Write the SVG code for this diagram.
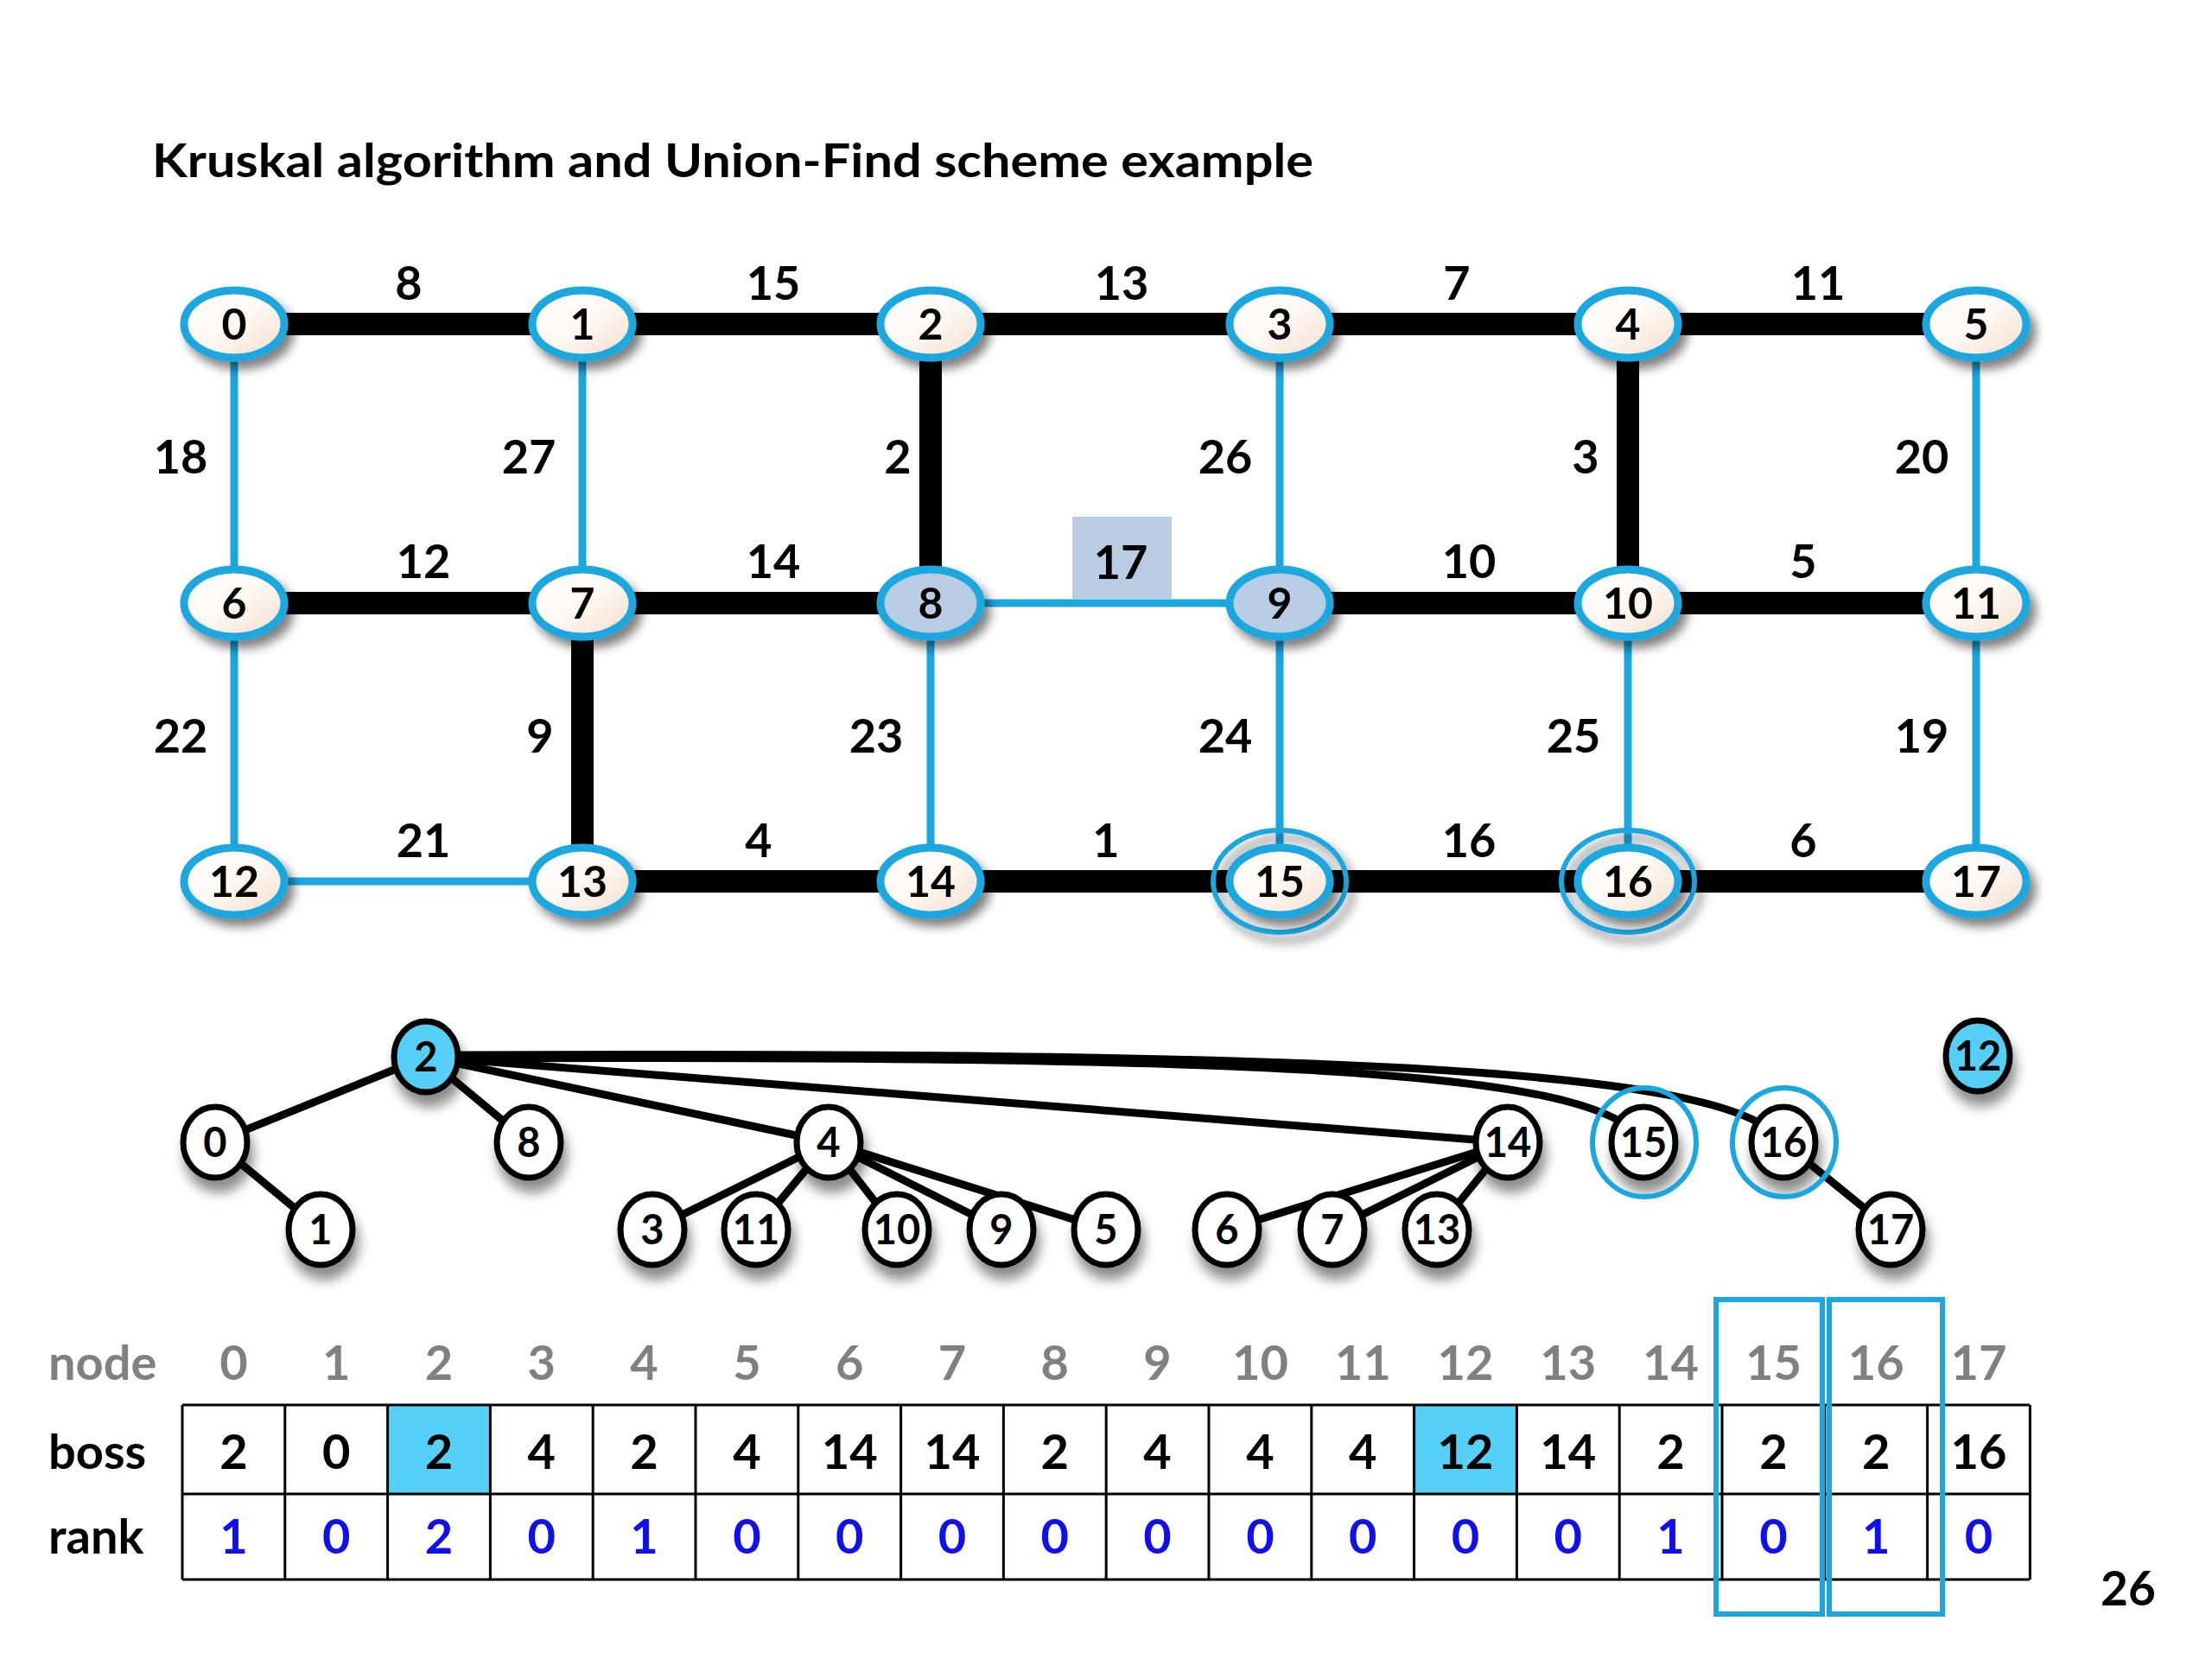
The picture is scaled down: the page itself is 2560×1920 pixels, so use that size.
<svg xmlns="http://www.w3.org/2000/svg" width="2560" height="1920" viewBox="0 0 2560 1920">
<defs>
<linearGradient id="cream" x1="0" y1="0" x2="1" y2="1">
<stop offset="0" stop-color="#ffffff"/><stop offset="0.5" stop-color="#fdf8f3"/><stop offset="1" stop-color="#f3dccb"/>
</linearGradient>
<filter id="sh" x="-50%" y="-50%" width="200%" height="200%">
<feDropShadow dx="7" dy="9" stdDeviation="6" flood-color="#000" flood-opacity="0.5"/>
</filter>
<filter id="tsh" x="-50%" y="-50%" width="200%" height="220%">
<feDropShadow dx="4" dy="14" stdDeviation="7" flood-color="#000" flood-opacity="0.45"/>
</filter>
</defs>
<style>
text{font-family:Lato,"Liberation Sans",sans-serif;font-weight:bold;}
.gn{fill:url(#cream);stroke:#1aa7df;stroke-width:9;filter:url(#sh);}
.gn.hl{fill:#b8cce4;}
.gt{font-size:50px;text-anchor:middle;fill:#000;}
.el{font-size:54px;text-anchor:middle;fill:#000;}
.mst{stroke:#000;stroke-width:26;fill:none;}
.non{stroke:#1aa7df;stroke-width:9;fill:none;}
.ring{fill:none;stroke:#1aa7df;stroke-width:6;filter:url(#sh);}
.tn{fill:#fff;stroke:#000;stroke-width:7;filter:url(#tsh);}
.tn.root{fill:#55cff6;}
.tt{font-size:47px;text-anchor:middle;fill:#000;}
.te{stroke:#000;stroke-width:9;fill:none;stroke-linecap:round;}
.tring{fill:none;stroke:#1aa7df;stroke-width:6;}
.hdr{font-size:56px;text-anchor:middle;fill:#808080;}
.lbl{font-size:56px;fill:#000;}
.bv{font-size:56px;text-anchor:middle;fill:#000;}
.rv{font-size:56px;text-anchor:middle;fill:#1010ee;}
.grid{stroke:#000;stroke-width:3;fill:none;}
.sel{fill:none;stroke:#1aa7df;stroke-width:6;}
</style>
<rect width="2560" height="1920" fill="#fff"/>
<text x="176" y="205" font-size="54" textLength="1344" lengthAdjust="spacingAndGlyphs">Kruskal algorithm and Union-Find scheme example</text>

<rect x="1241" y="598" width="115" height="95" fill="#b8cce4"/>

<g id="connectors">
<line class="mst" x1="271" y1="375" x2="674" y2="375"/>
<line class="mst" x1="674" y1="375" x2="1077" y2="375"/>
<line class="mst" x1="1077" y1="375" x2="1481" y2="375"/>
<line class="mst" x1="1481" y1="375" x2="1884" y2="375"/>
<line class="mst" x1="1884" y1="375" x2="2287" y2="375"/>
<line class="non" x1="271" y1="375" x2="271" y2="698"/>
<line class="non" x1="674" y1="375" x2="674" y2="698"/>
<line class="mst" x1="1077" y1="375" x2="1077" y2="698"/>
<line class="non" x1="1481" y1="375" x2="1481" y2="698"/>
<line class="mst" x1="1884" y1="375" x2="1884" y2="698"/>
<line class="non" x1="2287" y1="375" x2="2287" y2="698"/>
<line class="mst" x1="271" y1="698" x2="674" y2="698"/>
<line class="mst" x1="674" y1="698" x2="1077" y2="698"/>
<line class="non" x1="1077" y1="698" x2="1481" y2="698"/>
<line class="mst" x1="1481" y1="698" x2="1884" y2="698"/>
<line class="mst" x1="1884" y1="698" x2="2287" y2="698"/>
<line class="non" x1="271" y1="698" x2="271" y2="1020"/>
<line class="mst" x1="674" y1="698" x2="674" y2="1020"/>
<line class="non" x1="1077" y1="698" x2="1077" y2="1020"/>
<line class="non" x1="1481" y1="698" x2="1481" y2="1020"/>
<line class="non" x1="1884" y1="698" x2="1884" y2="1020"/>
<line class="non" x1="2287" y1="698" x2="2287" y2="1020"/>
<line class="non" x1="271" y1="1020" x2="674" y2="1020"/>
<line class="mst" x1="674" y1="1020" x2="1077" y2="1020"/>
<line class="mst" x1="1077" y1="1020" x2="1481" y2="1020"/>
<line class="mst" x1="1481" y1="1020" x2="1884" y2="1020"/>
<line class="mst" x1="1884" y1="1020" x2="2287" y2="1020"/>

<line class="te" x1="493" y1="1223" x2="249" y2="1322"/>
<line class="te" x1="249" y1="1322" x2="371" y2="1423"/>
<line class="te" x1="493" y1="1223" x2="612" y2="1322"/>
<line class="te" x1="493" y1="1223" x2="959" y2="1322"/>
<line class="te" x1="959" y1="1322" x2="755" y2="1423"/>
<line class="te" x1="959" y1="1322" x2="875" y2="1423"/>
<line class="te" x1="959" y1="1322" x2="1038" y2="1423"/>
<line class="te" x1="959" y1="1322" x2="1159" y2="1423"/>
<line class="te" x1="959" y1="1322" x2="1280" y2="1423"/>
<line class="te" x1="493" y1="1223" x2="1745" y2="1322"/>
<line class="te" x1="1745" y1="1322" x2="1420" y2="1423"/>
<line class="te" x1="1745" y1="1322" x2="1542" y2="1423"/>
<line class="te" x1="1745" y1="1322" x2="1663" y2="1423"/>
<path class="te" d="M493 1225 C1400 1222 1850 1232 1902 1322"/>
<path class="te" d="M493 1221 C1500 1217 2000 1232 2064 1322"/>
<line class="te" x1="2064" y1="1322" x2="2188" y2="1423"/>
</g>

<g class="el">
<text class="el" x="473" y="347">8</text>
<text class="el" x="895" y="347">15</text>
<text class="el" x="1298" y="347">13</text>
<text class="el" x="1686" y="347">7</text>
<text class="el" x="2104" y="347">11</text>
<text class="el" x="209" y="548">18</text>
<text class="el" x="612" y="548">27</text>
<text class="el" x="1039" y="548">2</text>
<text class="el" x="1418" y="548">26</text>
<text class="el" x="1835" y="548">3</text>
<text class="el" x="2224" y="548">20</text>
<text class="el" x="490" y="669">12</text>
<text class="el" x="895" y="669">14</text>
<text class="el" x="1297" y="670">17</text>
<text class="el" x="1700" y="669">10</text>
<text class="el" x="2087" y="669">5</text>
<text class="el" x="209" y="871">22</text>
<text class="el" x="625" y="871">9</text>
<text class="el" x="1014" y="871">23</text>
<text class="el" x="1418" y="871">24</text>
<text class="el" x="1821" y="871">25</text>
<text class="el" x="2224" y="871">19</text>
<text class="el" x="490" y="992">21</text>
<text class="el" x="878" y="992">4</text>
<text class="el" x="1280" y="992">1</text>
<text class="el" x="1700" y="992">16</text>
<text class="el" x="2087" y="992">6</text>
</g>

<g id="g0"><ellipse class="gn" cx="271" cy="375" rx="58" ry="39"/><text class="gt" x="271" y="393">0</text></g>
<g id="g1"><ellipse class="gn" cx="674" cy="375" rx="58" ry="39"/><text class="gt" x="674" y="393">1</text></g>
<g id="g2"><ellipse class="gn" cx="1077" cy="375" rx="58" ry="39"/><text class="gt" x="1077" y="393">2</text></g>
<g id="g3"><ellipse class="gn" cx="1481" cy="375" rx="58" ry="39"/><text class="gt" x="1481" y="393">3</text></g>
<g id="g4"><ellipse class="gn" cx="1884" cy="375" rx="58" ry="39"/><text class="gt" x="1884" y="393">4</text></g>
<g id="g5"><ellipse class="gn" cx="2287" cy="375" rx="58" ry="39"/><text class="gt" x="2287" y="393">5</text></g>
<g id="g6"><ellipse class="gn" cx="271" cy="698" rx="58" ry="39"/><text class="gt" x="271" y="716">6</text></g>
<g id="g7"><ellipse class="gn" cx="674" cy="698" rx="58" ry="39"/><text class="gt" x="674" y="716">7</text></g>
<g id="g8"><ellipse class="gn hl" cx="1077" cy="698" rx="58" ry="39"/><text class="gt" x="1077" y="716">8</text></g>
<g id="g9"><ellipse class="gn hl" cx="1481" cy="698" rx="58" ry="39"/><text class="gt" x="1481" y="716">9</text></g>
<g id="g10"><ellipse class="gn" cx="1884" cy="698" rx="58" ry="39"/><text class="gt" x="1884" y="716">10</text></g>
<g id="g11"><ellipse class="gn" cx="2287" cy="698" rx="58" ry="39"/><text class="gt" x="2287" y="716">11</text></g>
<g id="g12"><ellipse class="gn" cx="271" cy="1020" rx="58" ry="39"/><text class="gt" x="271" y="1038">12</text></g>
<g id="g13"><ellipse class="gn" cx="674" cy="1020" rx="58" ry="39"/><text class="gt" x="674" y="1038">13</text></g>
<g id="g14"><ellipse class="gn" cx="1077" cy="1020" rx="58" ry="39"/><text class="gt" x="1077" y="1038">14</text></g>
<g id="g15"><ellipse class="ring" cx="1481" cy="1020" rx="77" ry="59"/><ellipse class="gn" cx="1481" cy="1020" rx="58" ry="39"/><text class="gt" x="1481" y="1038">15</text></g>
<g id="g16"><ellipse class="ring" cx="1884" cy="1020" rx="77" ry="59"/><ellipse class="gn" cx="1884" cy="1020" rx="58" ry="39"/><text class="gt" x="1884" y="1038">16</text></g>
<g id="g17"><ellipse class="gn" cx="2287" cy="1020" rx="58" ry="39"/><text class="gt" x="2287" y="1038">17</text></g>

<g id="t2"><ellipse class="tn root" cx="493" cy="1223" rx="37" ry="41"/><text class="tt" x="493" y="1240">2</text></g>
<g id="t0"><ellipse class="tn" cx="249" cy="1322" rx="37" ry="41"/><text class="tt" x="249" y="1339">0</text></g>
<g id="t8"><ellipse class="tn" cx="612" cy="1322" rx="37" ry="41"/><text class="tt" x="612" y="1339">8</text></g>
<g id="t1"><ellipse class="tn" cx="371" cy="1423" rx="37" ry="41"/><text class="tt" x="371" y="1440">1</text></g>
<g id="t4"><ellipse class="tn" cx="959" cy="1322" rx="37" ry="41"/><text class="tt" x="959" y="1339">4</text></g>
<g id="t3"><ellipse class="tn" cx="755" cy="1423" rx="37" ry="41"/><text class="tt" x="755" y="1440">3</text></g>
<g id="t11"><ellipse class="tn" cx="875" cy="1423" rx="37" ry="41"/><text class="tt" x="875" y="1440">11</text></g>
<g id="t10"><ellipse class="tn" cx="1038" cy="1423" rx="37" ry="41"/><text class="tt" x="1038" y="1440">10</text></g>
<g id="t9"><ellipse class="tn" cx="1159" cy="1423" rx="37" ry="41"/><text class="tt" x="1159" y="1440">9</text></g>
<g id="t5"><ellipse class="tn" cx="1280" cy="1423" rx="37" ry="41"/><text class="tt" x="1280" y="1440">5</text></g>
<g id="t14"><ellipse class="tn" cx="1745" cy="1322" rx="37" ry="41"/><text class="tt" x="1745" y="1339">14</text></g>
<g id="t6"><ellipse class="tn" cx="1420" cy="1423" rx="37" ry="41"/><text class="tt" x="1420" y="1440">6</text></g>
<g id="t7"><ellipse class="tn" cx="1542" cy="1423" rx="37" ry="41"/><text class="tt" x="1542" y="1440">7</text></g>
<g id="t13"><ellipse class="tn" cx="1663" cy="1423" rx="37" ry="41"/><text class="tt" x="1663" y="1440">13</text></g>
<g id="t15"><ellipse class="tn" cx="1902" cy="1322" rx="37" ry="41"/><text class="tt" x="1902" y="1339">15</text><ellipse class="tring" cx="1903" cy="1322" rx="60" ry="63"/></g>
<g id="t16"><ellipse class="tn" cx="2064" cy="1322" rx="37" ry="41"/><text class="tt" x="2064" y="1339">16</text><ellipse class="tring" cx="2065" cy="1322" rx="60" ry="63"/></g>
<g id="t17"><ellipse class="tn" cx="2188" cy="1423" rx="37" ry="41"/><text class="tt" x="2188" y="1440">17</text></g>
<g id="t12"><ellipse class="tn root" cx="2289" cy="1222" rx="37" ry="41"/><text class="tt" x="2289" y="1239">12</text></g>

<g id="table">
<rect x="449.6" y="1626" width="118.8" height="103" fill="#56d0f7"/>
<rect x="1636.6" y="1626" width="118.8" height="103" fill="#56d0f7"/>
<path class="grid" d="M211 1626H2349M211 1729H2349M211 1828H2349"/>
<path class="grid" d="M211 1626V1828M329.8 1626V1828M448.6 1626V1828M567.4 1626V1828M686.2 1626V1828M805 1626V1828M923.8 1626V1828M1042.6 1626V1828M1161.4 1626V1828M1280.2 1626V1828M1399 1626V1828M1517.8 1626V1828M1636.6 1626V1828M1755.4 1626V1828M1874.2 1626V1828M1993 1626V1828M2111.8 1626V1828M2230.6 1626V1828M2349.4 1626V1828"/>
<text class="hdr" x="56" y="1597" style="text-anchor:start">node</text>
<text class="lbl" x="56" y="1700">boss</text>
<text class="lbl" x="56" y="1798">rank</text>
<g>
<text class="hdr" x="270.4" y="1597">0</text><text class="hdr" x="389.2" y="1597">1</text><text class="hdr" x="508" y="1597">2</text><text class="hdr" x="626.8" y="1597">3</text><text class="hdr" x="745.6" y="1597">4</text><text class="hdr" x="864.4" y="1597">5</text><text class="hdr" x="983.2" y="1597">6</text><text class="hdr" x="1102" y="1597">7</text><text class="hdr" x="1220.8" y="1597">8</text><text class="hdr" x="1339.6" y="1597">9</text><text class="hdr" x="1458.4" y="1597">10</text><text class="hdr" x="1577.2" y="1597">11</text><text class="hdr" x="1696" y="1597">12</text><text class="hdr" x="1814.8" y="1597">13</text><text class="hdr" x="1933.6" y="1597">14</text><text class="hdr" x="2052.4" y="1597">15</text><text class="hdr" x="2171.2" y="1597">16</text><text class="hdr" x="2290" y="1597">17</text>
</g>
<g>
<text class="bv" x="270.4" y="1700">2</text><text class="bv" x="389.2" y="1700">0</text><text class="bv" x="508" y="1700">2</text><text class="bv" x="626.8" y="1700">4</text><text class="bv" x="745.6" y="1700">2</text><text class="bv" x="864.4" y="1700">4</text><text class="bv" x="983.2" y="1700">14</text><text class="bv" x="1102" y="1700">14</text><text class="bv" x="1220.8" y="1700">2</text><text class="bv" x="1339.6" y="1700">4</text><text class="bv" x="1458.4" y="1700">4</text><text class="bv" x="1577.2" y="1700">4</text><text class="bv" x="1696" y="1700">12</text><text class="bv" x="1814.8" y="1700">14</text><text class="bv" x="1933.6" y="1700">2</text><text class="bv" x="2052.4" y="1700">2</text><text class="bv" x="2171.2" y="1700">2</text><text class="bv" x="2290" y="1700">16</text>
</g>
<g>
<text class="rv" x="270.4" y="1798">1</text><text class="rv" x="389.2" y="1798">0</text><text class="rv" x="508" y="1798">2</text><text class="rv" x="626.8" y="1798">0</text><text class="rv" x="745.6" y="1798">1</text><text class="rv" x="864.4" y="1798">0</text><text class="rv" x="983.2" y="1798">0</text><text class="rv" x="1102" y="1798">0</text><text class="rv" x="1220.8" y="1798">0</text><text class="rv" x="1339.6" y="1798">0</text><text class="rv" x="1458.4" y="1798">0</text><text class="rv" x="1577.2" y="1798">0</text><text class="rv" x="1696" y="1798">0</text><text class="rv" x="1814.8" y="1798">0</text><text class="rv" x="1933.6" y="1798">1</text><text class="rv" x="2052.4" y="1798">0</text><text class="rv" x="2171.2" y="1798">1</text><text class="rv" x="2290" y="1798">0</text>
</g>
<rect class="sel" x="1986" y="1504" width="123" height="364"/>
<rect class="sel" x="2117" y="1504" width="131" height="364"/>
</g>
<text x="2463" y="1858" font-size="55" text-anchor="middle">26</text>
</svg>
